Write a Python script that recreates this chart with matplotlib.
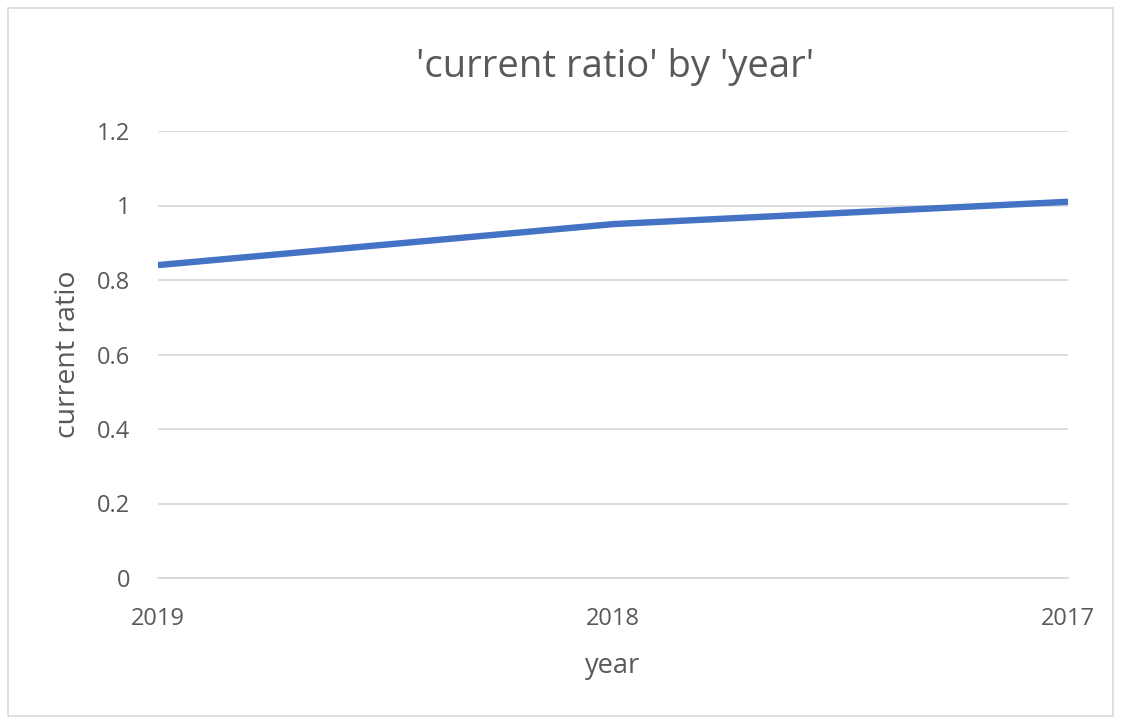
'''Line chart of current ratio by year, Excel style'''
import matplotlib
matplotlib.use('Agg')
import matplotlib.pyplot as plt
from matplotlib.patches import Rectangle

years = ['2019', '2018', '2017']
current_ratio = [0.84, 0.95, 1.01]
y_ticks = [0, 0.2, 0.4, 0.6, 0.8, 1, 1.2]
y_tick_labels = ['0', '0.2', '0.4', '0.6', '0.8', '1', '1.2']

plt.rcParams['font.family'] = ['Open Sans', 'DejaVu Sans']
text_color = '#595959'

fig = plt.figure(figsize=(11.21, 7.24), dpi=100)
# light frame around the whole chart
fig.patches.append(Rectangle((8 / 1121, 8 / 724), 1105 / 1121, 708 / 724,
                             transform=fig.transFigure, fill=False,
                             edgecolor='#D9D9D9', linewidth=1.2))

ax = fig.add_axes([158 / 1121, (724 - 578) / 724, 910 / 1121, 447 / 724])
x = list(range(len(years)))
ax.plot(x, current_ratio, color='#4472C4', linewidth=4.6, solid_capstyle='butt')

ax.set_xlim(0, len(years) - 1)
ax.set_ylim(0, 1.2)
ax.set_xticks(x)
ax.set_xticklabels(years)
ax.set_yticks(y_ticks)
ax.set_yticklabels(y_tick_labels)
ax.yaxis.grid(True, color='#D9D9D9', linewidth=1.3)
ax.set_axisbelow(True)
for side in ['top', 'right', 'left']:
    ax.spines[side].set_visible(False)
ax.spines['bottom'].set_color('#D9D9D9')
ax.spines['bottom'].set_linewidth(1.3)
ax.tick_params(axis='both', length=0, colors=text_color, labelsize=17)
ax.tick_params(axis='x', pad=21)
ax.tick_params(axis='y', pad=20)

ax.set_xlabel('year', color=text_color, fontsize=19.5)
ax.xaxis.set_label_coords(0.5, -0.197)
ax.xaxis.label.set_verticalalignment('center')
ax.set_ylabel('current ratio', color=text_color, fontsize=20.5)
ax.yaxis.set_label_coords(-0.099, 0.5)
ax.yaxis.label.set_verticalalignment('center')

fig.text(0.5 * (158 + 1068) / 1121 + 0.002, 1 - 77 / 724, "'current ratio' by 'year'",
         ha='center', va='baseline', color=text_color, fontsize=27.5)

fig.savefig('out.png', dpi=100)
